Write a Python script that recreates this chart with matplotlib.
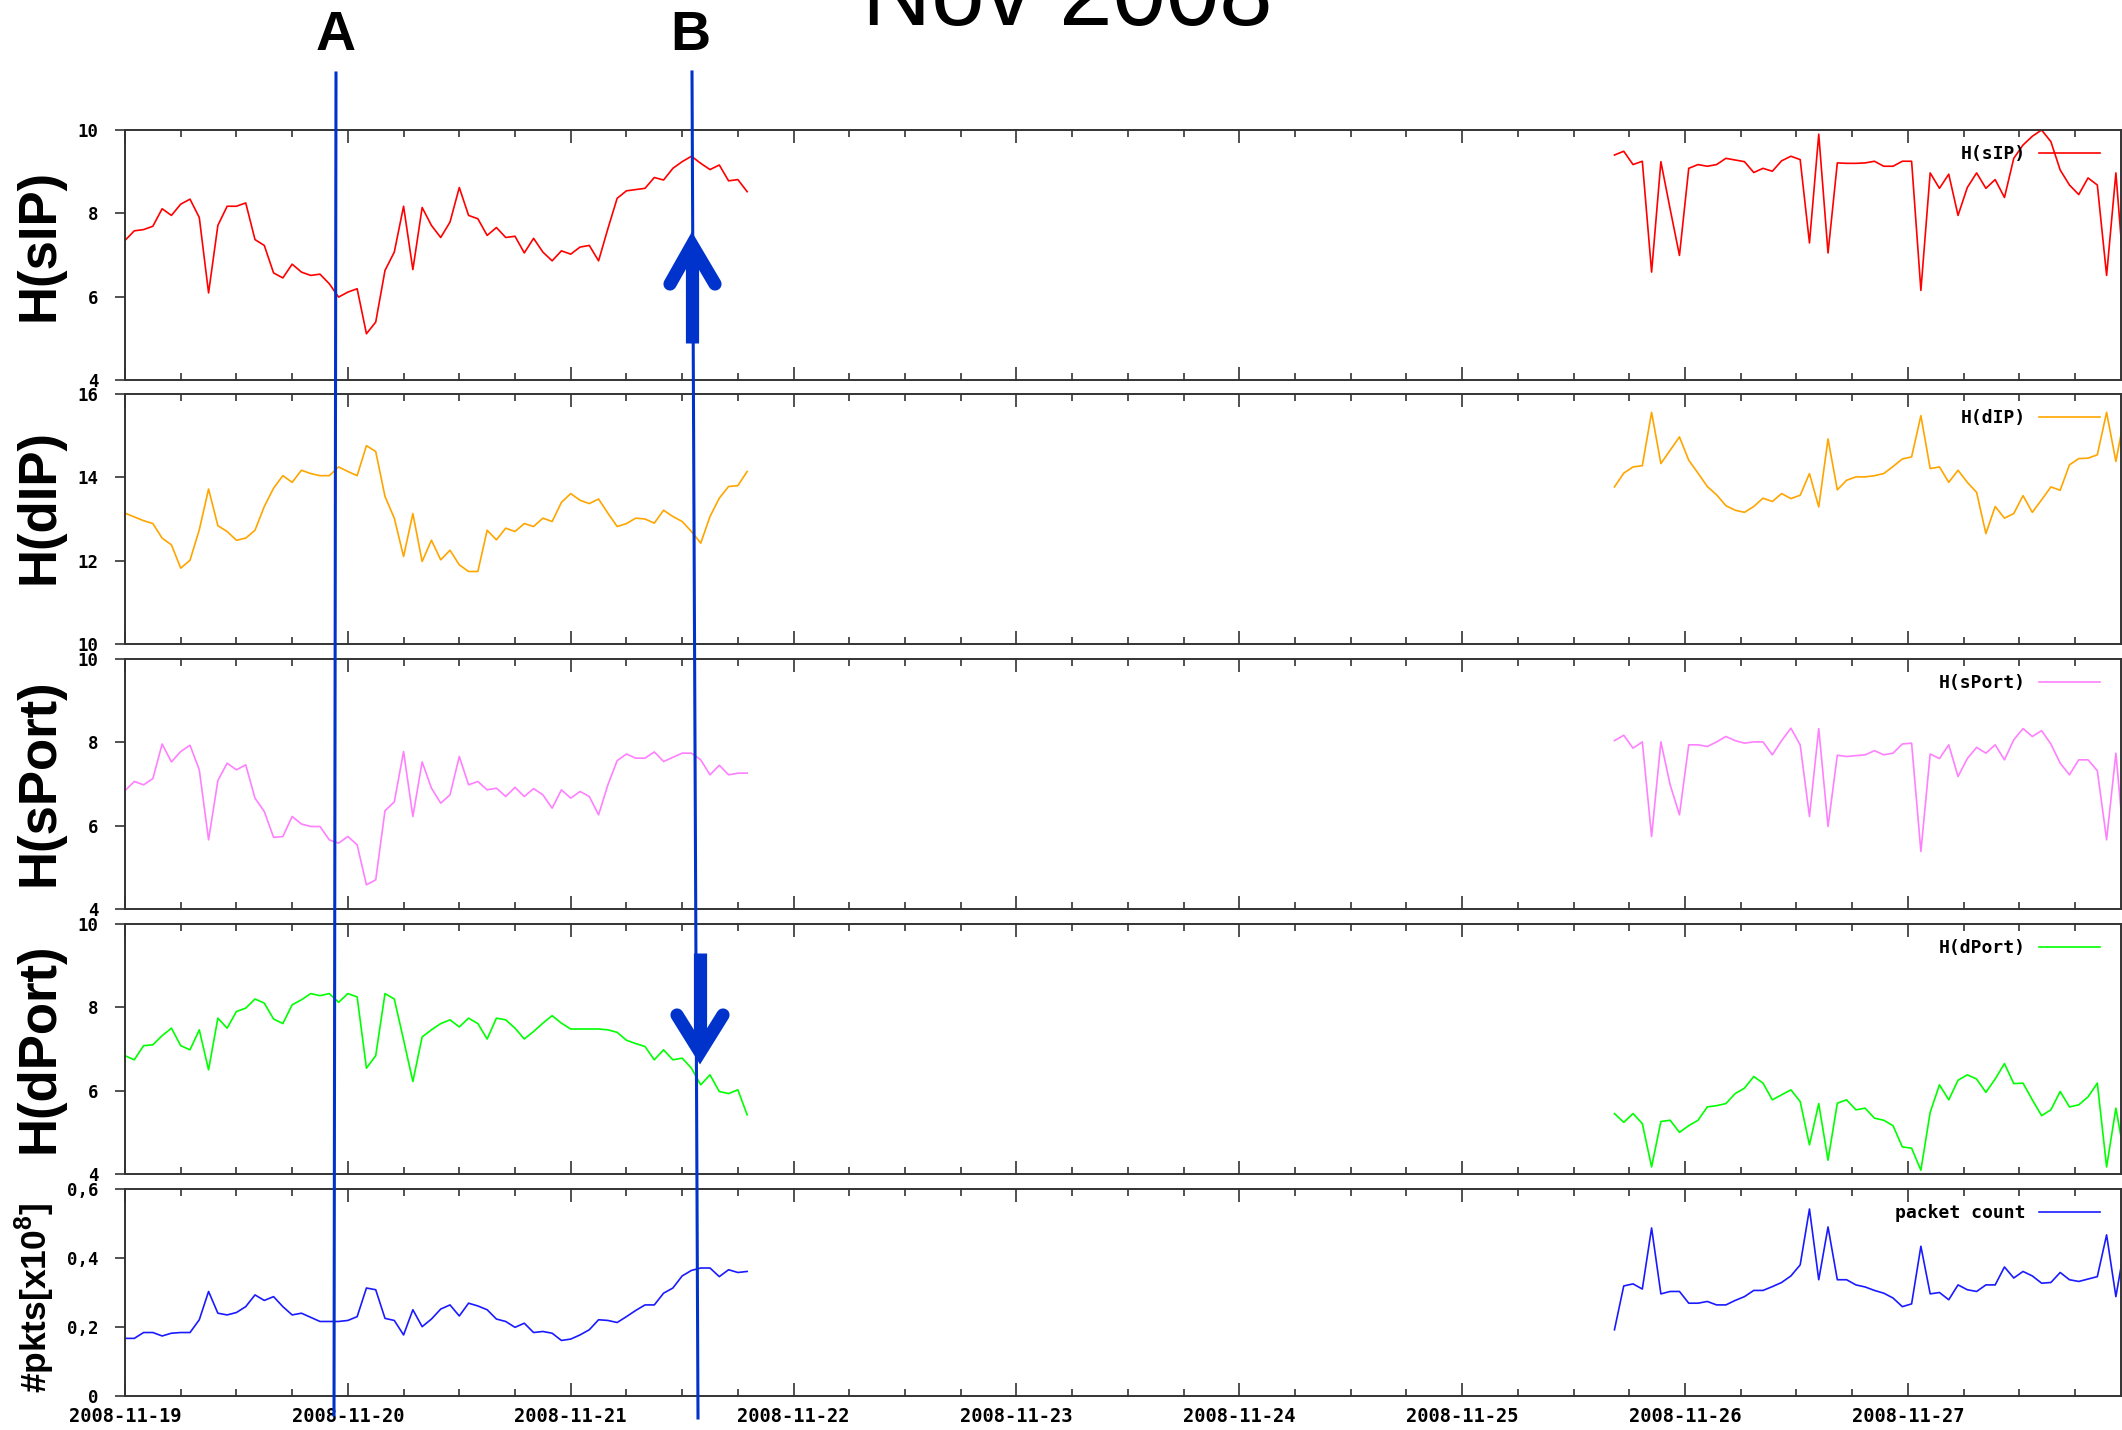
import matplotlib
matplotlib.use("Agg")
import matplotlib.pyplot as plt
import matplotlib.dates as mdates
import pandas as pd

plt.rcParams['font.family'] = 'DejaVu Sans Mono'
plt.rcParams['font.weight'] = 'bold'
plt.rcParams['mathtext.fontset'] = 'custom'
plt.rcParams['mathtext.bf'] = 'Liberation Sans:bold'

# hourly samples, two measurement periods
seg1_start = '2008-11-19 00:00'
seg2_start = '2008-11-25 16:24'

sip_1 = [7.35, 7.58, 7.61, 7.69, 8.11, 7.95, 8.22, 8.34, 7.90, 6.09,
         7.71, 8.17, 8.17, 8.25, 7.37, 7.23, 6.57, 6.45, 6.78, 6.59,
         6.51, 6.54, 6.31, 5.99, 6.11, 6.19, 5.11, 5.39, 6.63, 7.07,
         8.17, 6.65, 8.14, 7.71, 7.42, 7.79, 8.62, 7.95, 7.87, 7.47,
         7.66, 7.42, 7.45, 7.05, 7.40, 7.07, 6.86, 7.10, 7.02, 7.19,
         7.23, 6.86, 7.63, 8.36, 8.54, 8.57, 8.60, 8.86, 8.80, 9.08,
         9.24, 9.37, 9.20, 9.05, 9.16, 8.78, 8.81, 8.52]
sip_2 = [9.40, 9.49, 9.17, 9.25, 6.59, 9.24, 8.10, 6.99, 9.08, 9.17,
         9.13, 9.17, 9.32, 9.28, 9.24, 8.98, 9.08, 9.01, 9.26, 9.37,
         9.29, 7.29, 9.90, 7.05, 9.21, 9.20, 9.20, 9.21, 9.25, 9.13,
         9.13, 9.25, 9.25, 6.15, 8.97, 8.60, 8.94, 7.95, 8.62, 8.97,
         8.60, 8.81, 8.38, 9.32, 9.64, 9.85, 10.0, 9.72, 9.04, 8.68,
         8.45, 8.85, 8.68, 6.51, 8.97, 6.15]

dip_1 = [13.14, 13.05, 12.96, 12.89, 12.54, 12.38, 11.82, 12.01, 12.74, 13.72,
         12.84, 12.70, 12.49, 12.54, 12.73, 13.30, 13.74, 14.04, 13.88, 14.17,
         14.09, 14.04, 14.04, 14.25, 14.14, 14.04, 14.76, 14.62, 13.54, 13.02,
         12.10, 13.13, 11.98, 12.49, 12.02, 12.25, 11.90, 11.74, 11.74, 12.73,
         12.50, 12.78, 12.70, 12.89, 12.82, 13.02, 12.94, 13.40, 13.61, 13.45,
         13.37, 13.48, 13.14, 12.82, 12.89, 13.02, 13.00, 12.90, 13.21, 13.06,
         12.94, 12.70, 12.42, 13.06, 13.50, 13.78, 13.80, 14.14]
dip_2 = [13.77, 14.10, 14.25, 14.28, 15.56, 14.33, 14.65, 14.97, 14.41, 14.10,
         13.78, 13.58, 13.32, 13.21, 13.16, 13.30, 13.50, 13.42, 13.61, 13.49,
         13.57, 14.09, 13.29, 14.92, 13.70, 13.93, 14.01, 14.01, 14.04, 14.09,
         14.26, 14.44, 14.49, 15.48, 14.21, 14.25, 13.88, 14.17, 13.88, 13.64,
         12.65, 13.30, 13.02, 13.13, 13.56, 13.16, 13.46, 13.77, 13.69, 14.30,
         14.45, 14.46, 14.54, 15.56, 14.38, 15.56]

sport_1 = [6.84, 7.06, 6.98, 7.13, 7.96, 7.53, 7.78, 7.93, 7.34, 5.66,
           7.08, 7.50, 7.34, 7.46, 6.66, 6.34, 5.72, 5.74, 6.22, 6.04,
           5.98, 5.98, 5.66, 5.58, 5.74, 5.54, 4.58, 4.70, 6.36, 6.57,
           7.78, 6.22, 7.53, 6.90, 6.54, 6.74, 7.66, 6.98, 7.06, 6.86,
           6.90, 6.70, 6.92, 6.70, 6.89, 6.74, 6.42, 6.86, 6.66, 6.82,
           6.70, 6.26, 6.98, 7.56, 7.72, 7.62, 7.62, 7.77, 7.54, 7.64,
           7.74, 7.74, 7.58, 7.22, 7.45, 7.22, 7.26, 7.26]
sport_2 = [8.04, 8.17, 7.86, 8.01, 5.74, 8.01, 6.98, 6.26, 7.94, 7.94,
           7.90, 8.01, 8.14, 8.04, 7.98, 8.01, 8.01, 7.70, 8.04, 8.34,
           7.94, 6.22, 8.33, 5.98, 7.69, 7.66, 7.68, 7.70, 7.80, 7.70,
           7.74, 7.96, 7.98, 5.38, 7.72, 7.61, 7.94, 7.18, 7.61, 7.88,
           7.74, 7.94, 7.58, 8.06, 8.33, 8.14, 8.28, 7.96, 7.50, 7.22,
           7.58, 7.58, 7.32, 5.66, 7.74, 5.26]

dport_1 = [6.84, 6.74, 7.08, 7.10, 7.32, 7.50, 7.08, 6.98, 7.46, 6.50,
           7.74, 7.50, 7.90, 7.98, 8.20, 8.10, 7.72, 7.61, 8.06, 8.18,
           8.33, 8.28, 8.33, 8.12, 8.33, 8.25, 6.54, 6.84, 8.33, 8.20,
           7.22, 6.22, 7.29, 7.46, 7.61, 7.70, 7.53, 7.74, 7.61, 7.24,
           7.74, 7.70, 7.50, 7.24, 7.42, 7.62, 7.80, 7.62, 7.48, 7.48,
           7.48, 7.48, 7.46, 7.40, 7.21, 7.13, 7.06, 6.74, 6.98, 6.74,
           6.78, 6.54, 6.14, 6.38, 5.98, 5.93, 6.02, 5.42]
dport_2 = [5.45, 5.24, 5.45, 5.21, 4.17, 5.26, 5.29, 5.00, 5.16, 5.29,
           5.61, 5.64, 5.69, 5.93, 6.06, 6.34, 6.18, 5.78, 5.90, 6.02,
           5.74, 4.70, 5.69, 4.33, 5.70, 5.78, 5.54, 5.58, 5.34, 5.29,
           5.16, 4.65, 4.62, 4.09, 5.48, 6.14, 5.78, 6.25, 6.38, 6.28,
           5.96, 6.28, 6.65, 6.17, 6.18, 5.78, 5.40, 5.54, 5.98, 5.61,
           5.66, 5.85, 6.18, 4.17, 5.58, 4.33]

pkts_1 = [0.167, 0.167, 0.184, 0.184, 0.174, 0.182, 0.184, 0.184, 0.221, 0.303,
          0.240, 0.235, 0.242, 0.259, 0.293, 0.277, 0.288, 0.259, 0.235, 0.240,
          0.228, 0.216, 0.216, 0.216, 0.219, 0.230, 0.313, 0.308, 0.225, 0.219,
          0.177, 0.250, 0.201, 0.223, 0.252, 0.264, 0.232, 0.269, 0.261, 0.250,
          0.223, 0.216, 0.199, 0.211, 0.184, 0.187, 0.182, 0.161, 0.165, 0.177,
          0.192, 0.221, 0.219, 0.213, 0.230, 0.248, 0.264, 0.264, 0.298, 0.313,
          0.348, 0.364, 0.371, 0.371, 0.346, 0.366, 0.358, 0.361]
pkts_2 = [0.192, 0.319, 0.325, 0.310, 0.487, 0.296, 0.303, 0.303, 0.269, 0.269,
          0.274, 0.264, 0.264, 0.277, 0.288, 0.306, 0.306, 0.317, 0.329, 0.348,
          0.380, 0.542, 0.337, 0.490, 0.337, 0.337, 0.322, 0.316, 0.306, 0.298,
          0.284, 0.259, 0.267, 0.434, 0.296, 0.300, 0.279, 0.322, 0.308, 0.303,
          0.322, 0.322, 0.374, 0.342, 0.361, 0.348, 0.327, 0.329, 0.358, 0.337,
          0.332, 0.339, 0.346, 0.467, 0.288, 0.443]

names = ['H(sIP)', 'H(dIP)', 'H(sPort)', 'H(dPort)', 'packet count']
ylabels = ['H(sIP)', 'H(dIP)', 'H(sPort)', 'H(dPort)', r'#pkts[x10$^{\mathbf{8}}$]']
colors = ['#ff0000', '#ffa500', '#ff80ff', '#00ff00', '#1a1aff']
first = [sip_1, dip_1, sport_1, dport_1, pkts_1]
second = [sip_2, dip_2, sport_2, dport_2, pkts_2]
ylims = [(4, 10), (10, 16), (4, 10), (4, 10), (0, 0.6)]
yticks = [[4, 6, 8, 10], [10, 12, 14, 16], [4, 6, 8, 10], [4, 6, 8, 10], [0, 0.2, 0.4, 0.6]]
ytick_labels = [None, None, None, None, ['0', '0,2', '0,4', '0,6']]

# panel layout in pixels (top, bottom) of a 2122x1430 canvas
W, H = 2122, 1430
left_px, right_px = 125, 2121
panels_px = [(130, 380), (394, 644), (659, 909), (924, 1174), (1189, 1396)]
label_y_px = [245, 507, 782, 1048, 1298]

x1 = pd.date_range(seg1_start, periods=len(sip_1), freq='h')
x2 = pd.date_range(seg2_start, periods=len(sip_2), freq='h')

fig = plt.figure(figsize=(W / 100, H / 100), dpi=100)

for i in range(5):
    top, bot = panels_px[i]
    ax = fig.add_axes([left_px / W, 1 - bot / H, (right_px - left_px) / W, (bot - top) / H])
    ax.plot(x1, first[i], color=colors[i], lw=1.2)
    ax.plot(x2, second[i], color=colors[i], lw=1.2, label=names[i])
    ax.set_xlim(pd.Timestamp('2008-11-19 00:00'), pd.Timestamp('2008-11-27 22:57'))
    ax.set_ylim(*ylims[i])
    ax.set_yticks(yticks[i])
    if ytick_labels[i]:
        ax.set_yticklabels(ytick_labels[i])
    ax.xaxis.set_major_locator(mdates.DayLocator())
    ax.xaxis.set_minor_locator(mdates.HourLocator(byhour=[6, 12, 18]))
    ax.xaxis.set_major_formatter(mdates.DateFormatter('%Y-%m-%d'))
    ax.tick_params(axis='x', which='both', direction='in', top=True, bottom=True,
                   color='#333333', width=1.2, labelsize=13.5, pad=8)
    ax.tick_params(axis='x', which='major', length=9.5)
    ax.tick_params(axis='x', which='minor', length=5)
    ax.tick_params(axis='y', direction='out', length=7, width=1.2, color='#333333',
                   labelsize=12.5, pad=12, right=False)
    if i < 4:
        ax.tick_params(axis='x', which='both', labelbottom=False)
    for s in ax.spines.values():
        s.set_linewidth(1.4)
        s.set_color('#333333')
    hpx = bot - top
    ax.legend(loc='upper right', bbox_to_anchor=(1 - 21 / (right_px - left_px), 1 - 15 / hpx),
              frameon=False, markerfirst=False, handlelength=3.4, handletextpad=0.7,
              borderaxespad=0, borderpad=0,
              prop={'family': 'DejaVu Sans Mono', 'weight': 'bold', 'size': 13})
    fs = 25.5 if i == 4 else 38
    xl = 35 if i == 4 else 40
    fig.text(xl / W, 1 - label_y_px[i] / H, ylabels[i], rotation=90, ha='center', va='center',
             fontsize=fs, fontweight='bold', family='Liberation Sans')

# overlay for the hand-drawn annotations, pixel coordinates
ov = fig.add_axes([0, 0, 1, 1], zorder=10)
ov.set_xlim(0, W)
ov.set_ylim(H, 0)
ov.axis('off')

ann_c = '#0033cc'
line_a = ([336, 334], [73, 1415])
line_b = ([692, 698], [72, 1418])
ov.plot(*line_a, color=ann_c, lw=2.2)
ov.plot(*line_b, color=ann_c, lw=2.2)

# up arrow (panel 1) and down arrow (panel 4)
ov.plot([692, 692], [343, 252], color=ann_c, lw=9.5, solid_capstyle='butt')
ov.plot([670, 692, 715], [284, 245, 284], color=ann_c, lw=9.5,
        solid_capstyle='round', solid_joinstyle='miter')
ov.plot([700, 700], [953, 1046], color=ann_c, lw=9.5, solid_capstyle='butt')
ov.plot([677, 700, 723], [1015, 1052, 1015], color=ann_c, lw=9.5,
        solid_capstyle='round', solid_joinstyle='miter')

ov.text(336, 50, 'A', fontsize=40, fontweight='bold', family='Liberation Sans',
        ha='center', va='baseline')
ov.text(690, 50, 'B', fontsize=40, fontweight='bold', family='Liberation Sans',
        ha='center', va='baseline')
ov.text(1067, 25, 'Nov 2008', fontsize=69, fontweight='normal', family='Liberation Sans',
        ha='center', va='baseline')

fig.savefig('out.png', dpi=100)
